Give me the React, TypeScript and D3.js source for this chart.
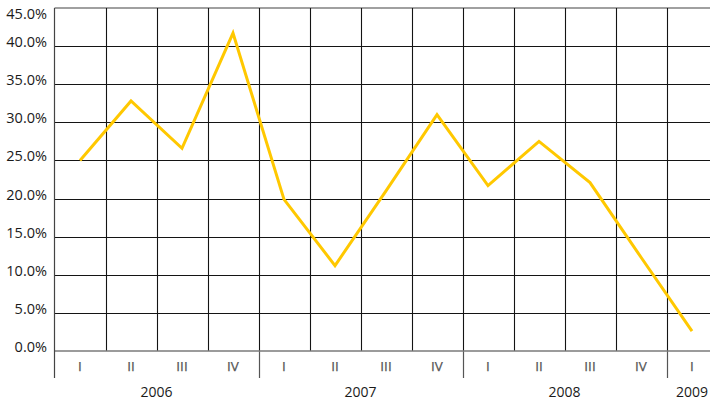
import React from "react";
import * as d3 from "d3";

const periods = ["2006-I","2006-II","2006-III","2006-IV","2007-I","2007-II","2007-III","2007-IV","2008-I","2008-II","2008-III","2008-IV","2009-I"];
const quarterLabels = ["I","II","III","IV","I","II","III","IV","I","II","III","IV","I"];
const yearLabels = ["2006","2007","2008","2009"];
const yearStarts = [0, 4, 8, 12];
const yearEnds = [4, 8, 12, 13];
const values = [25.0, 32.8, 26.6, 41.7, 19.9, 11.2, 21.0, 31.0, 21.7, 27.5, 22.1, 12.3, 2.6];
const yTicks = [0, 5, 10, 15, 20, 25, 30, 35, 40, 45];

const W = 710, H = 402;
const left = 54.5, top = 8, bottom = 351;
const band = 51;
const right = left + band * periods.length;
const FONT = "'Open Sans', 'Liberation Sans', sans-serif";

export default function App() {
  const x = d3.scaleBand<string>().domain(periods).range([left, right]).padding(0);
  const y = d3.scaleLinear().domain([0, 45]).range([bottom, top]);
  const line = d3.line<number>()
    .x((_, i) => (x(periods[i]) as number) + x.bandwidth() / 2)
    .y((d) => y(d));

  return (
    <svg width={W} height={H} style={{ position: "absolute", left: 0, top: 0, background: "#fff" }}>
      {yTicks.filter((t) => t > 0 && t < 45).map((t) => (
        <line key={"h" + t} x1={left} x2={right} y1={Math.round(y(t)) + 0.5} y2={Math.round(y(t)) + 0.5} stroke="#141414" strokeWidth={1.1} />
      ))}
      <line x1={left} x2={right} y1={y(45)} y2={y(45)} stroke="#808080" strokeWidth={1.5} />
      {periods.slice(1).map((p) => (
        <line key={"v" + p} x1={Math.round(x(p) as number) + 0.5} x2={Math.round(x(p) as number) + 0.5} y1={top} y2={bottom} stroke="#141414" strokeWidth={1.1} />
      ))}
      {yearStarts.slice(1).map((s) => (
        <line key={"ys" + s} x1={Math.round(x(periods[s]) as number) + 0.5} x2={Math.round(x(periods[s]) as number) + 0.5} y1={bottom} y2={378} stroke="#555" strokeWidth={1.2} />
      ))}
      <line x1={left} x2={right} y1={bottom} y2={bottom} stroke="#7a7a7a" strokeWidth={1.5} />
      <line x1={left} x2={left} y1={top} y2={378} stroke="#444" strokeWidth={1.2} />
      {yTicks.map((t) => (
        <text key={"yl" + t} x={47} y={t === 45 ? 19 : y(t) + 1} textAnchor="end" fontFamily={FONT} fontSize={14.5} fill="#1a1a1a">
          {t.toFixed(1) + "%"}
        </text>
      ))}
      {periods.map((p, i) => (
        <text key={"q" + p} x={(x(p) as number) + x.bandwidth() / 2} y={371} textAnchor="middle" fontFamily={FONT} fontSize={13.5} fill="#555" stroke="#555" strokeWidth={0.25}>
          {quarterLabels[i]}
        </text>
      ))}
      {yearLabels.map((yl, i) => {
        const x0 = x(periods[yearStarts[i]]) as number;
        const x1 = (x(periods[yearEnds[i] - 1]) as number) + x.bandwidth();
        return (
          <text key={"y" + yl} x={(x0 + x1) / 2} y={397} textAnchor="middle" fontFamily={FONT} fontSize={14} fill="#1a1a1a">
            {yl}
          </text>
        );
      })}
      <path d={line(values) || ""} fill="none" stroke="#FFC800" strokeWidth={3} strokeLinejoin="miter" />
    </svg>
  );
}
